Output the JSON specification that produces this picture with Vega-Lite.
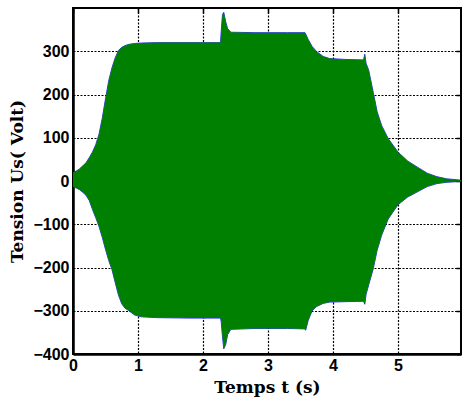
{
  "$schema": "https://vega.github.io/schema/vega-lite/v6.json",
  "width": 388,
  "height": 346,
  "autosize": "none",
  "padding": {"left": 73, "top": 8, "right": 2, "bottom": 53},
  "background": "white",
  "config": {
    "view": {"stroke": "black", "strokeWidth": 2},
    "axis": {
      "labelFont": "Liberation Sans",
      "labelFontWeight": "bold",
      "labelFontSize": 16,
      "labelColor": "black",
      "titleFont": "DejaVu Serif",
      "titleFontWeight": "bold",
      "titleFontSize": 17,
      "titleColor": "black",
      "domainColor": "black",
      "domainWidth": 2.5,
      "tickColor": "black",
      "tickWidth": 1.5,
      "gridColor": "black",
      "gridDash": [2, 1.5],
      "gridWidth": 1.2,
      "gridOpacity": 1
    }
  },
  "data": {
    "values": [
      {"t": 0.00, "hi": 20, "lo": -14},
      {"t": 0.05, "hi": 23, "lo": -16},
      {"t": 0.10, "hi": 28, "lo": -20},
      {"t": 0.15, "hi": 35, "lo": -26},
      {"t": 0.20, "hi": 42, "lo": -33},
      {"t": 0.25, "hi": 54, "lo": -45},
      {"t": 0.30, "hi": 67, "lo": -66},
      {"t": 0.35, "hi": 84, "lo": -85},
      {"t": 0.40, "hi": 108, "lo": -105},
      {"t": 0.45, "hi": 145, "lo": -130},
      {"t": 0.50, "hi": 190, "lo": -158},
      {"t": 0.55, "hi": 232, "lo": -184},
      {"t": 0.60, "hi": 262, "lo": -205},
      {"t": 0.65, "hi": 285, "lo": -235},
      {"t": 0.70, "hi": 302, "lo": -264},
      {"t": 0.75, "hi": 309, "lo": -284},
      {"t": 0.80, "hi": 313, "lo": -294},
      {"t": 0.86, "hi": 316, "lo": -300},
      {"t": 0.95, "hi": 318, "lo": -310},
      {"t": 1.05, "hi": 319, "lo": -314},
      {"t": 1.30, "hi": 320, "lo": -316},
      {"t": 1.80, "hi": 320, "lo": -317},
      {"t": 2.27, "hi": 320, "lo": -317},
      {"t": 2.28, "hi": 345, "lo": -325},
      {"t": 2.30, "hi": 385, "lo": -360},
      {"t": 2.32, "hi": 390, "lo": -388},
      {"t": 2.35, "hi": 368, "lo": -378},
      {"t": 2.38, "hi": 352, "lo": -355},
      {"t": 2.43, "hi": 344, "lo": -343},
      {"t": 2.80, "hi": 343, "lo": -341},
      {"t": 3.30, "hi": 343, "lo": -341},
      {"t": 3.57, "hi": 343, "lo": -342},
      {"t": 3.58, "hi": 340, "lo": -345},
      {"t": 3.62, "hi": 327, "lo": -322},
      {"t": 3.68, "hi": 311, "lo": -300},
      {"t": 3.75, "hi": 299, "lo": -290},
      {"t": 3.85, "hi": 288, "lo": -283},
      {"t": 3.95, "hi": 283, "lo": -280},
      {"t": 4.20, "hi": 281, "lo": -279},
      {"t": 4.47, "hi": 280, "lo": -278},
      {"t": 4.49, "hi": 293, "lo": -285},
      {"t": 4.51, "hi": 272, "lo": -262},
      {"t": 4.55, "hi": 256, "lo": -240},
      {"t": 4.62, "hi": 205, "lo": -203},
      {"t": 4.68, "hi": 160, "lo": -160},
      {"t": 4.75, "hi": 128, "lo": -125},
      {"t": 4.85, "hi": 98, "lo": -88},
      {"t": 5.00, "hi": 67, "lo": -55},
      {"t": 5.15, "hi": 46, "lo": -37},
      {"t": 5.30, "hi": 32, "lo": -25},
      {"t": 5.45, "hi": 18, "lo": -13},
      {"t": 5.60, "hi": 10, "lo": -6},
      {"t": 5.75, "hi": 5, "lo": -3},
      {"t": 5.97, "hi": 2, "lo": -1}
    ]
  },
  "layer": [
    {
      "mark": {"type": "line", "color": "#0000ff", "strokeWidth": 0.8},
      "encoding": {
        "x": {"field": "t", "type": "quantitative", "scale": {"domain": [0, 5.97], "nice": false, "zero": false},
              "axis": {"orient": "top", "values": [0, 1, 2, 3, 4, 5], "labels": false, "title": null, "grid": false, "domain": false, "tickSize": -5}},
        "y": {"field": "hi", "type": "quantitative", "scale": {"domain": [-400, 400], "nice": false},
              "axis": {"orient": "right", "values": [-400, -300, -200, -100, 0, 100, 200, 300], "labels": false, "title": null, "grid": false, "domain": false, "tickSize": -5}}
      }
    },
    {
      "mark": {"type": "line", "color": "#0000ff", "strokeWidth": 0.8},
      "encoding": {
        "x": {"field": "t", "type": "quantitative", "axis": null},
        "y": {"field": "lo", "type": "quantitative", "axis": null}
      }
    },
    {
      "mark": {"type": "area", "color": "#008000", "opacity": 1},
      "encoding": {
        "x": {"field": "t", "type": "quantitative",
              "axis": {"orient": "bottom", "values": [0, 1, 2, 3, 4, 5], "title": "Temps t (s)", "titlePadding": 6, "labelPadding": 3, "tickSize": 0, "grid": true, "labelFlush": false}},
        "y": {"field": "hi", "type": "quantitative",
              "axis": {"orient": "left", "values": [-400, -300, -200, -100, 0, 100, 200, 300], "title": "Tension Us( Volt)", "titlePadding": 6, "labelPadding": 4, "tickSize": 0, "grid": true, "labelFlush": false}},
        "y2": {"field": "lo"}
      }
    }
  ],
  "resolve": {"axis": {"x": "independent", "y": "independent"}}
}
